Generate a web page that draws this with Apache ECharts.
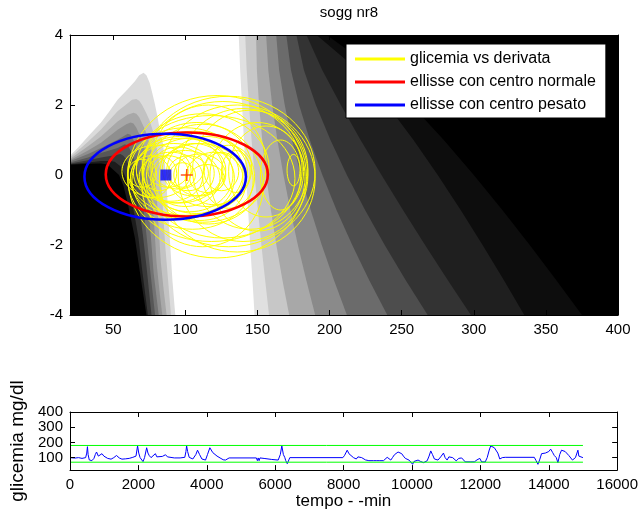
<!DOCTYPE html>
<html><head><meta charset="utf-8">
<script src="https://cdn.jsdelivr.net/npm/echarts@6/dist/echarts.min.js"></script>
<style>html,body{margin:0;padding:0;background:#fff}#c{width:641px;height:511px}</style>
</head><body><div id="c"></div>
<script>
const FONT = "'Liberation Sans', Arial, sans-serif";

// ---------- axis ticks ----------
const topXTicks = [50, 100, 150, 200, 250, 300, 350, 400];
const botYTicks = [100, 200, 300, 400];

// ---------- background (grey risk map) ----------
// right side: contour x positions at rows y = 4..-4 for each grey level
const rowsY = [4, 3, 2, 1, 0, -1, -2, -3, -4];
const rightLevels = [0.88, 0.78, 0.66, 0.54, 0.42, 0.30, 0.20, 0.12, 0.05, 0.0];
const rightContours = [
  [137, 138, 139.3, 140.6, 142, 143.5, 144.9, 146.5, 148],
  [141.5, 142.5, 144.1, 145.9, 148, 150.3, 152.7, 155.3, 158],
  [149, 149.6, 151.1, 153.3, 156, 159.3, 163.1, 167.3, 172],
  [156, 157.5, 160.2, 163.8, 168, 172.8, 178, 183.8, 190],
  [163, 165, 168.9, 173.9, 180, 186.9, 194.6, 203, 212],
  [170, 173.2, 178.9, 186.3, 195, 204.8, 215.7, 227.4, 240],
  [177, 182.2, 190.5, 200.6, 212, 224.6, 238.2, 252.7, 268],
  [184, 194.9, 207.8, 221.5, 236, 250.9, 266.2, 281.9, 298],
  [191, 219.6, 240, 258.2, 275, 290.9, 306.1, 320.8, 335],
  [198, 231.9, 256.8, 279.2, 300, 319.8, 338.8, 357.1, 375]
];
// left side: nested bands (outer light to inner black), boundary points [x, y]
const leftLevels = [0.86, 0.76, 0.66, 0.56, 0.45, 0.34, 0.22, 0.11, 0.0];
const leftBands = [
  [[20,0.55],[26,0.8],[32.5,1.1],[41.5,1.5],[47,1.8],[53,2.15],[60,2.45],[65,2.68],[68,2.85],[71,2.92],[73,2.85],[75.3,2.63],[77,2.35],[78.7,2.06],[80.5,1.7],[82.2,1.3],[84.5,0.9],[86.5,0],[88,-1],[89.5,-2],[91,-3],[93,-4]],
  [[20,0.5],[32.5,0.95],[41.5,1.3],[53,1.82],[60,2.05],[63,2.15],[66,2.17],[68,2.12],[70,2.0],[72.5,1.8],[75,1.58],[78,1.2],[81,0.6],[83,0],[84.5,-1],[86,-2],[88,-3],[90,-4]],
  [[20,0.46],[32.5,0.82],[41.5,1.1],[53,1.53],[60,1.72],[64,1.78],[66,1.75],[68,1.65],[72,1.3],[76,0.8],[78.5,0.2],[80,-0.5],[81.5,-1.5],[83,-2.5],[85,-3.3],[87,-4]],
  [[20,0.42],[32.5,0.7],[41.5,0.92],[53,1.29],[59,1.45],[62,1.5],[64,1.47],[66,1.35],[70,1.0],[73,0.55],[75.5,0],[77,-0.7],[78.5,-1.5],[80,-2.5],[82,-3.3],[84,-4]],
  [[20,0.39],[32.5,0.6],[41.5,0.77],[53,1.01],[58,1.13],[60,1.18],[62,1.15],[64,1.0],[68,0.6],[71,0.1],[73,-0.5],[75,-1.2],[76.5,-2],[78,-2.8],[81.5,-4]],
  [[20,0.36],[32.5,0.5],[41.5,0.63],[53,0.77],[58,0.88],[60,0.85],[62,0.7],[66,0.3],[69,-0.3],[71,-1.0],[73,-1.7],[75,-2.5],[79,-4]],
  [[20,0.33],[32.5,0.42],[41.5,0.5],[50,0.56],[55,0.6],[57,0.55],[59,0.45],[63,0.05],[66,-0.5],[68.5,-1.1],[70.5,-1.7],[73,-2.6],[76.5,-4]],
  [[20,0.31],[32.5,0.36],[41.5,0.4],[48,0.4],[51,0.38],[55,0.25],[59,-0.1],[62,-0.6],[65,-1.2],[67.5,-1.8],[70,-2.7],[74,-4]],
  [[20,0.29],[32.5,0.32],[41.5,0.33],[46,0.3],[50,0.15],[54,0],[57,-0.3],[60,-0.8],[62.5,-1.3],[65,-1.8],[67.5,-2.5],[70,-3.2],[73,-4]]
];

// ---------- glicemia vs derivata loops: [cx, cy, rx, ry] ----------
const loops = [
  [122,-0.05,62,2.32],[130,0.1,60,2.15],[136,-0.1,54,2.1],[126,0.15,55,1.95],[140,0.0,45,1.9],
  [118,-0.1,58,1.8],[145,0.15,40,1.7],[150,-0.05,33,1.55],[156,0.1,26,1.3],[175,0.14,4.5,0.45],
  [166,0.0,14,1.0],[112,0.2,46,1.55],[105,-0.15,42,1.4],[100,0.1,40,1.25],[98,-0.1,36,1.15],
  [108,0.2,38,1.3],[103,0.0,30,1.05],[96,0.15,30,0.95],[110,-0.2,32,1.1],[92,0.05,28,0.85],
  [115,0.1,28,1.0],[100,-0.1,24,0.8],[106,0.15,22,0.75],[90,-0.05,22,0.7],[95,0.2,18,0.6],
  [110,0.0,18,0.6],[120,-0.1,20,0.75],[102,0.05,14,0.5],[88,0.1,14,0.45],[115,-0.1,12,0.4],
  [125,0.1,12,0.55],[98,0.0,9,0.35],[82,0.05,12,0.5],[76,-0.05,14,0.6],[70,0.05,10,0.4],
  [130,-0.05,18,0.9],[135,0.1,10,0.6],[80,0.1,24,0.75],[116,0.3,40,1.7],[112,-0.3,42,1.75]
];
const ellipseNormal = [[101, 0.015, 56.2, 1.2]];
const ellipseWeighted = [[86, -0.05, 56, 1.23]];
const centerNormal = [[101, 0]];
const centerWeighted = [[86.5, 0]];

// ---------- bottom plot ----------
const glucoseT = [0,138,250,351,457,490,510,530,563,600,640,669,700,740,776,800,829,870,935,990,1041,1100,1201,1280,1360,1440,1519,1620,1732,1838,1930,1976,2010,2050,2100,2135,2180,2242,2280,2316,2370,2422,2497,2540,2582,2700,2794,2850,2900,3050,3219,3357,3390,3410,3440,3485,3591,3680,3729,3790,3857,3963,4020,4090,4130,4175,4300,4388,4480,4547,4653,5450,5480,5503,5530,5556,5700,5900,6088,6150,6194,6240,6279,6310,6353,6400,6428,7979,8030,8106,8160,8212,8290,8372,8420,8478,8530,8584,8640,8690,8740,8797,8870,8956,9060,9168,9220,9275,9330,9381,9430,9487,9540,9593,9650,9700,9750,9806,9860,9912,9970,10018,10060,10100,10178,10250,10337,10390,10443,10500,10550,10600,10656,10710,10762,10840,10921,10970,11028,11080,11134,11190,11240,11293,11370,11453,11510,11559,11700,11824,11900,11984,12037,12143,12200,12260,12303,12350,12409,12440,12462,12510,12568,12640,12728,13577,13630,13684,13740,13790,13900,14000,14056,14110,14162,14220,14268,14320,14374,14480,14587,14693,14780,14853,14880,14906,15000];
const glucoseV = [100,97,100,95,100,130,172,120,85,95,80,74,95,120,137,128,110,118,126,110,109,95,90,100,114,98,90,92,95,102,110,177,130,100,95,74,100,165,130,114,100,102,126,105,102,108,119,105,95,98,98,102,140,177,140,102,91,120,149,120,91,84,120,165,150,133,110,98,86,84,98,98,80,98,80,98,94,88,84,120,177,120,102,80,60,85,100,100,115,149,125,114,100,91,105,109,100,95,85,74,80,91,80,80,80,80,90,102,95,84,100,119,130,137,130,126,110,95,88,84,70,56,75,88,84,75,67,75,79,110,144,120,91,88,84,105,130,100,84,105,114,100,91,79,95,98,85,72,72,72,85,95,72,72,100,150,177,165,165,178,177,130,91,100,102,102,80,56,90,126,130,140,156,135,114,100,67,120,149,140,114,84,100,149,110,102,100];
const limitT = [0, 15000];
const limitHigh = [180, 180];
const limitLow = [70, 70];

const NAME_Y = 'glicemia vs derivata', NAME_R = 'ellisse con centro normale', NAME_B = 'ellisse con centro pesato';

function grey(v) { const c = Math.round(v * 255); return 'rgb(' + c + ',' + c + ',' + c + ')'; }

function ellipseItem(color, width) {
  return function (params, api) {
    const c = api.coord([api.value(0), api.value(1)]);
    const s = api.size([api.value(2), api.value(3)]);
    return { type: 'ellipse', shape: { cx: c[0], cy: c[1], rx: s[0], ry: s[1] },
      style: { fill: 'none', stroke: color, lineWidth: width } };
  };
}

const baseAxis = {
  axisLine: { show: true, onZero: false, lineStyle: { color: '#000', width: 1 } },
  splitLine: { show: false },
  z: 10
};
function ax(extra) { return Object.assign({}, JSON.parse(JSON.stringify(baseAxis)), extra); }
const tickStyle = { inside: true, length: 5, lineStyle: { color: '#000' } };
const labelStyle = { color: '#000', fontSize: 15, fontFamily: FONT };
const plain = function (v) { return String(v); };

const option = {
  animation: false,
  backgroundColor: '#fff',
  title: { text: 'sogg nr8', left: 344, top: 0, textAlign: 'center',
    textStyle: { fontSize: 15, fontWeight: 'normal', color: '#000', fontFamily: FONT } },
  legend: {
    data: [
      { name: NAME_Y, itemStyle: { color: '#ffff00' } },
      { name: NAME_R, itemStyle: { color: '#ff0000' } },
      { name: NAME_B, itemStyle: { color: '#0000ff' } }
    ],
    orient: 'vertical', left: 346, top: 44, padding: [7, 10, 5, 9], itemGap: 7,
    itemWidth: 50, itemHeight: 3, icon: 'rect', backgroundColor: '#fff',
    borderColor: '#000', borderWidth: 1, borderRadius: 0, selectedMode: false, z: 20,
    textStyle: { fontSize: 16, color: '#000', fontFamily: FONT }
  },
  grid: [
    { left: 70, top: 35, width: 548, height: 280 },
    { left: 70, top: 412, width: 548, height: 60 }
  ],
  xAxis: [
    ax({ gridIndex: 0, type: 'value', min: 20, max: 400, position: 'bottom',
      axisTick: Object.assign({ customValues: topXTicks }, tickStyle),
      axisLabel: Object.assign({ customValues: topXTicks, margin: 7 }, labelStyle) }),
    ax({ gridIndex: 0, type: 'value', min: 20, max: 400, position: 'top',
      axisTick: Object.assign({ customValues: topXTicks }, tickStyle),
      axisLabel: { show: false } }),
    ax({ gridIndex: 1, type: 'value', min: 0, max: 16000, interval: 2000, position: 'bottom',
      axisTick: tickStyle, axisLabel: Object.assign({ margin: 7, formatter: plain }, labelStyle),
      name: 'tempo - -min', nameLocation: 'middle', nameGap: 20,
      nameTextStyle: { fontSize: 17, color: '#000', fontFamily: FONT } }),
    ax({ gridIndex: 1, type: 'value', min: 0, max: 16000, interval: 2000, position: 'top',
      axisTick: tickStyle, axisLabel: { show: false } })
  ],
  yAxis: [
    ax({ gridIndex: 0, type: 'value', min: -4, max: 4, interval: 2, position: 'left',
      axisTick: tickStyle, axisLabel: Object.assign({ margin: 7 }, labelStyle) }),
    ax({ gridIndex: 0, type: 'value', min: -4, max: 4, interval: 2, position: 'right',
      axisTick: tickStyle, axisLabel: { show: false } }),
    ax({ gridIndex: 1, type: 'value', min: 18, max: 400, position: 'left',
      axisTick: Object.assign({ customValues: botYTicks }, tickStyle),
      axisLabel: Object.assign({ customValues: botYTicks, margin: 7 }, labelStyle),
      name: 'glicemia mg/dl', nameLocation: 'middle', nameGap: 43,
      nameTextStyle: { fontSize: 19, color: '#000', fontFamily: FONT } }),
    ax({ gridIndex: 1, type: 'value', min: 18, max: 400, position: 'right',
      axisTick: Object.assign({ customValues: botYTicks }, tickStyle),
      axisLabel: { show: false } })
  ],
  series: [
    { type: 'custom', name: 'bg', xAxisIndex: 0, yAxisIndex: 0, z: 1, silent: true, clip: true,
      data: [[200, 0]],
      renderItem: function (params, api) {
        const children = [];
        rightLevels.forEach(function (lv, i) {
          const pts = rowsY.map(function (y, r) { return api.coord([rightContours[i][r], y]); });
          pts.push(api.coord([400, -4]));
          pts.push(api.coord([400, 4]));
          children.push({ type: 'polygon', shape: { points: pts }, style: { fill: grey(lv) } });
        });
        leftBands.forEach(function (band, i) {
          const pts = band.map(function (p) { return api.coord(p); });
          pts.push(api.coord([20, -4]));
          children.push({ type: 'polygon', shape: { points: pts }, style: { fill: grey(leftLevels[i]) } });
        });
        return { type: 'group', children: children };
      } },
    { type: 'custom', name: NAME_Y, xAxisIndex: 0, yAxisIndex: 0, z: 2, silent: true, clip: true,
      itemStyle: { color: '#ffff00' }, data: loops, renderItem: ellipseItem('#ffff00', 1) },
    { type: 'custom', name: NAME_R, xAxisIndex: 0, yAxisIndex: 0, z: 3, silent: true,
      itemStyle: { color: '#ff0000' }, data: ellipseNormal, renderItem: ellipseItem('#ff0000', 2.6) },
    { type: 'custom', name: NAME_B, xAxisIndex: 0, yAxisIndex: 0, z: 4, silent: true,
      itemStyle: { color: '#0000ff' }, data: ellipseWeighted, renderItem: ellipseItem('#0000ff', 2.6) },
    { type: 'scatter', name: 'cw', xAxisIndex: 0, yAxisIndex: 0, z: 5, silent: true,
      symbol: 'rect', symbolSize: 11, itemStyle: { color: '#0000ff' }, data: centerWeighted },
    { type: 'custom', name: 'cn', xAxisIndex: 0, yAxisIndex: 0, z: 5, silent: true,
      data: centerNormal,
      renderItem: function (params, api) {
        const c = api.coord([api.value(0), api.value(1)]);
        const st = { stroke: '#ff3c00', lineWidth: 1.3 };
        return { type: 'group', children: [
          { type: 'line', shape: { x1: c[0] - 6, y1: c[1], x2: c[0] + 6, y2: c[1] }, style: st },
          { type: 'line', shape: { x1: c[0], y1: c[1] - 6, x2: c[0], y2: c[1] + 6 }, style: st }
        ] };
      } },
    { type: 'line', name: 'glucose', xAxisIndex: 2, yAxisIndex: 2, showSymbol: false, silent: true,
      lineStyle: { color: '#0000ff', width: 1 },
      data: glucoseT.map(function (t, i) { return [t, glucoseV[i]]; }) },
    { type: 'line', name: 'hi', xAxisIndex: 2, yAxisIndex: 2, showSymbol: false, silent: true,
      lineStyle: { color: '#00ff00', width: 1 },
      data: limitT.map(function (t, i) { return [t, limitHigh[i]]; }) },
    { type: 'line', name: 'lo', xAxisIndex: 2, yAxisIndex: 2, showSymbol: false, silent: true,
      lineStyle: { color: '#00ff00', width: 1 },
      data: limitT.map(function (t, i) { return [t, limitLow[i]]; }) }
  ]
};
const chart = echarts.init(document.getElementById('c'), null, { renderer: 'canvas' });
chart.setOption(option);
</script></body></html>
